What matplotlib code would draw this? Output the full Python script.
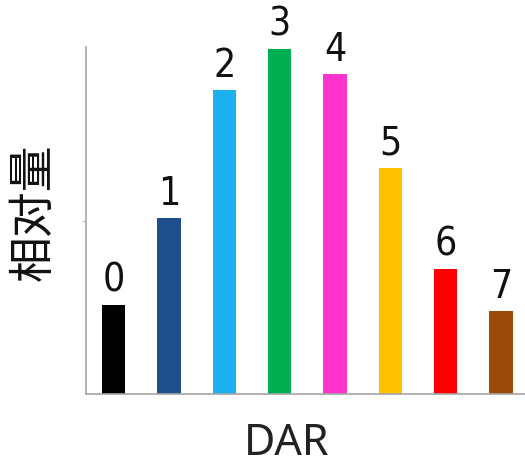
import matplotlib.pyplot as plt

dar_classes = ["0", "1", "2", "3", "4", "5", "6", "7"]
relative_amount = [0.256, 0.507, 0.876, 0.994, 0.922, 0.651, 0.360, 0.239]
bar_colors = ["#000000", "#1F4E8C", "#1CB0F0", "#00B050",
              "#FF33CC", "#FFC000", "#FF0000", "#9C4A0A"]


def main():
    fig = plt.figure(figsize=(5.25, 4.65), dpi=100)
    ax = fig.add_axes([0.1638, 0.1527, 0.836, 0.746])

    xs = list(range(len(dar_classes)))
    ax.bar(xs, relative_amount, width=0.42, color=bar_colors)

    for x, v, lab in zip(xs, relative_amount, dar_classes):
        ax.annotate(lab, (x, v), xytext=(0, 4), textcoords="offset points",
                    ha="center", va="bottom", fontsize=28,
                    family=["DejaVu Sans"], fontstretch="condensed",
                    color="#111111")

    ax.set_xlim(-0.5, 7.43)
    ax.set_ylim(0, 1)

    for side in ("top", "right"):
        ax.spines[side].set_visible(False)
    for side in ("left", "bottom"):
        ax.spines[side].set_color("#a6a6a6")
        ax.spines[side].set_linewidth(1.2)

    ax.set_xticks([])
    ax.set_yticks([0.5])
    ax.set_yticklabels([])
    ax.tick_params(axis="y", length=3, color="#c0c0c0")

    ax.set_ylabel("相对量", fontsize=33, family=["Noto Sans CJK SC", "DejaVu Sans"],
                  color="#111111", ha="center", va="center")
    ax.yaxis.set_label_coords(-0.12, 0.525)
    ax.set_xlabel("DAR", fontsize=31, family=["Noto Sans", "DejaVu Sans"],
                  color="#222222", ha="center", va="center")
    ax.xaxis.set_label_coords(0.458, -0.145)

    fig.savefig("out.png", dpi=100)


if __name__ == "__main__":
    main()
